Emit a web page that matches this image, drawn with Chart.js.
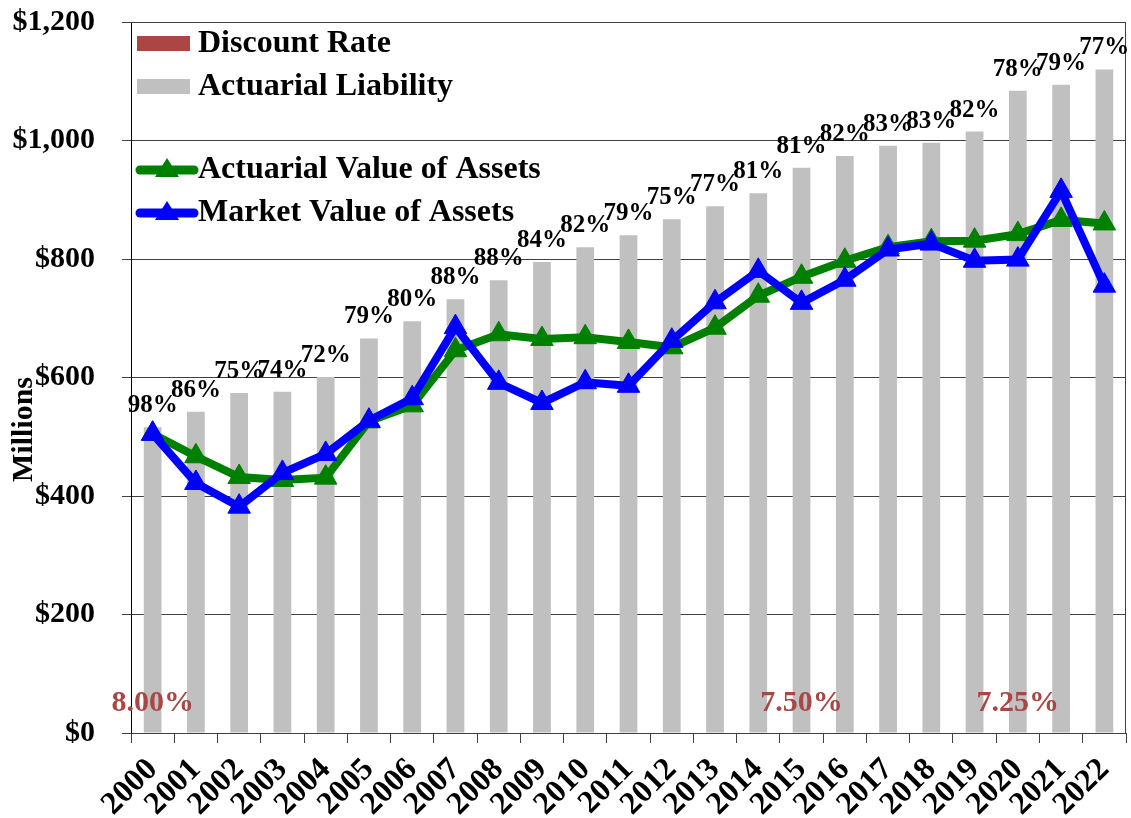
<!DOCTYPE html>
<html>
<head>
<meta charset="utf-8">
<script src="https://cdn.jsdelivr.net/npm/chart.js@4.4.1/dist/chart.umd.min.js"></script>
<style>
  html, body { margin: 0; padding: 0; background: #fff; }
</style>
</head>
<body>
<canvas id="chart" width="1131" height="818"></canvas>
<script>
var years = ['2000', '2001', '2002', '2003', '2004', '2005', '2006', '2007', '2008', '2009', '2010', '2011',
  '2012', '2013', '2014', '2015', '2016', '2017', '2018', '2019', '2020', '2021', '2022'];
var liability = [516, 542, 574, 576, 601, 666, 695, 732, 764, 795, 820, 840, 867, 889, 911, 954, 974, 991, 996, 1015, 1084, 1094, 1120];
var actuarialAssets = [505, 467, 432, 427, 431, 526, 553, 646, 673, 665, 668, 660, 651, 684, 738, 770, 797, 820, 830, 831, 842, 866, 860];
var marketAssets = [505, 422, 382, 439, 471, 527, 565, 685, 591, 557, 592, 586, 662, 727, 780, 726, 765, 816, 826, 797, 799, 915, 755];
var fundedRatio = ['98%', '86%', '75%', '74%', '72%', '79%', '80%', '88%', '88%', '84%', '82%', '79%',
  '75%', '77%', '81%', '81%', '82%', '83%', '83%', '82%', '78%', '79%', '77%'];
var rateYears = ['2000', '2015', '2020'];
var rateLabels = ['8.00%', '7.50%', '7.25%'];
var yTicks = [0, 200, 400, 600, 800, 1000, 1200];

var FONT = '"Liberation Serif", "Times New Roman", serif';
var RATE_RED = '#AA4643';
var GREEN = '#008000';
var BLUE = '#0000FF';
var GREY = '#C0C0C0';

// ratio labels, discount rates, y title, border and the hand-made legend
var overlay = {
  id: 'overlay',
  beforeDatasetsDraw: function(chart) {
    var ctx = chart.ctx, a = chart.chartArea;
    ctx.save();
    ctx.strokeStyle = '#404040';
    ctx.lineWidth = 1;
    ctx.beginPath();
    ctx.moveTo(a.left, a.top + 0.5);
    ctx.lineTo(a.right - 0.5, a.top + 0.5);
    ctx.lineTo(a.right - 0.5, a.bottom);
    ctx.stroke();
    ctx.restore();
  },
  afterDatasetsDraw: function(chart) {
    var ctx = chart.ctx, a = chart.chartArea;
    var x = chart.scales.x, y = chart.scales.y;
    var bars = chart.getDatasetMeta(0).data;
    ctx.save();
    ctx.fillStyle = '#000';
    ctx.font = 'bold 25px ' + FONT;
    ctx.textAlign = 'center';
    ctx.textBaseline = 'alphabetic';
    bars.forEach(function(bar, i) {
      ctx.fillText(fundedRatio[i], bar.x, bar.y - 15);
    });

    ctx.fillStyle = RATE_RED;
    ctx.font = 'bold 30px ' + FONT;
    ctx.textBaseline = 'middle';
    rateYears.forEach(function(yr, i) {
      ctx.fillText(rateLabels[i], x.getPixelForValue(years.indexOf(yr)), y.getPixelForValue(0) - 30);
    });

    // y axis title, sits a little below the middle as in the original
    ctx.fillStyle = '#000';
    ctx.font = 'bold 30px ' + FONT;
    ctx.translate(24, (a.top + a.bottom) / 2 + 52);
    ctx.rotate(-Math.PI / 2);
    ctx.fillText('Millions', 0, 0);
    ctx.restore();

    // legend
    var lx = a.left + 6, tx = a.left + 67;
    ctx.save();
    ctx.font = 'bold 32px ' + FONT;
    ctx.textAlign = 'left';
    ctx.textBaseline = 'middle';
    ctx.fillStyle = RATE_RED;
    ctx.fillRect(lx, a.top + 14, 53, 15);
    ctx.fillStyle = GREY;
    ctx.fillRect(lx, a.top + 57, 53, 15);
    ctx.fillStyle = '#000';
    ctx.fillText('Discount Rate', tx, a.top + 22);
    ctx.fillText('Actuarial Liability', tx, a.top + 65);

    [[GREEN, 'Actuarial Value of Assets', a.top + 148], [BLUE, 'Market Value of Assets', a.top + 191]].forEach(function(e) {
      ctx.strokeStyle = e[0];
      ctx.fillStyle = e[0];
      ctx.lineWidth = 9;
      ctx.lineCap = 'round';
      ctx.beginPath();
      ctx.moveTo(lx + 3, e[2]);
      ctx.lineTo(lx + 57, e[2]);
      ctx.stroke();
      ctx.beginPath();
      ctx.moveTo(lx + 30, e[2] - 12);
      ctx.lineTo(lx + 42, e[2] + 7);
      ctx.lineTo(lx + 18, e[2] + 7);
      ctx.closePath();
      ctx.fill();
      ctx.fillStyle = '#000';
      ctx.fillText(e[1], tx, e[2]);
    });
    ctx.restore();
  }
};

var lineStyle = function(color) {
  return {
    borderColor: color,
    backgroundColor: color,
    borderWidth: 8,
    borderJoinStyle: 'miter',
    pointStyle: 'triangle',
    pointRadius: 13,
    pointBackgroundColor: color,
    pointBorderColor: color,
    pointBorderWidth: 1,
    tension: 0,
    clip: false
  };
};

var config = {
  type: 'bar',
  data: {
    labels: years,
    datasets: [
      {
        type: 'bar',
        label: 'Actuarial Liability',
        data: liability,
        backgroundColor: GREY,
        barPercentage: 0.41,
        categoryPercentage: 1,
        order: 3
      },
      Object.assign({ type: 'line', label: 'Actuarial Value of Assets', data: actuarialAssets, order: 2 }, lineStyle(GREEN)),
      Object.assign({ type: 'line', label: 'Market Value of Assets', data: marketAssets, order: 1 }, lineStyle(BLUE))
    ]
  },
  options: {
    responsive: false,
    animation: false,
    layout: { autoPadding: false, padding: { top: 22, right: 5, left: 0, bottom: 0 } },
    plugins: {
      legend: { display: false },
      tooltip: { enabled: false }
    },
    scales: {
      x: {
        offset: true,
        grid: { offset: true, drawOnChartArea: false, drawTicks: true, tickLength: 10, color: '#404040' },
        border: { color: '#404040', width: 1 },
        ticks: {
          autoSkip: false,
          maxRotation: 45,
          minRotation: 45,
          padding: 8,
          color: '#000',
          font: { family: FONT, size: 32, weight: 'bold' }
        },
        afterFit: function(scale) {
          scale.height = 85;
          scale.paddingLeft = 0;
          scale.paddingRight = 0;
        }
      },
      y: {
        min: 0,
        max: 1200,
        afterBuildTicks: function(scale) {
          scale.ticks = yTicks.map(function(v) { return { value: v }; });
        },
        grid: { color: '#404040', lineWidth: 1, tickLength: 9 },
        border: { color: '#000', width: 1 },
        ticks: {
          padding: 27,
          color: '#000',
          font: { family: FONT, size: 30, weight: 'bold' },
          callback: function(v) { return '$' + v.toLocaleString('en-US'); }
        },
        afterFit: function(scale) {
          scale.width = 131;
          scale.paddingTop = 0;
          scale.paddingBottom = 0;
        }
      }
    }
  },
  plugins: [overlay]
};

var ctx = document.getElementById('chart').getContext('2d');
var myChart = new Chart(ctx, config);
</script>
</body>
</html>
